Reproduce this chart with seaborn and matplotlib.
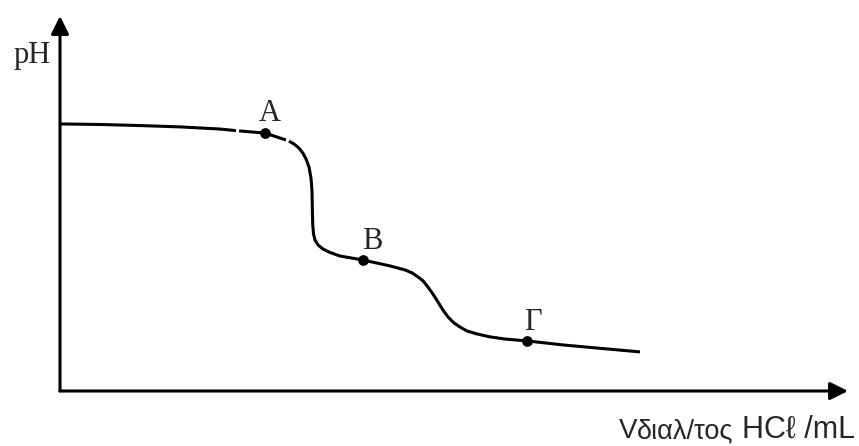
import pandas as pd
import matplotlib
matplotlib.use("Agg")
import matplotlib.pyplot as plt
import seaborn as sns

# titration curve (V in mL, pH), drawn in three pieces
# because the original has two tiny breaks near point A
seg1_v = [0.0, 2.03, 4.06, 6.09, 8.12, 8.93]
seg1_ph = [9.97, 9.95, 9.91, 9.86, 9.78, 9.72]
seg2_v = [9.09, 10.41, 11.47]
seg2_ph = [9.71, 9.63, 9.37]
seg3_v = [11.62, 11.88, 12.13, 12.33, 12.49, 12.64, 12.74, 12.79, 12.81, 12.83,
          12.87, 12.94, 13.10, 13.35, 13.71, 14.21, 15.38, 16.75, 17.51, 17.87,
          18.17, 18.43, 18.68, 18.93, 19.19, 19.44, 19.70, 20.00, 20.30, 20.66,
          21.17, 21.83, 22.59, 23.71, 25.53, 27.77, 29.44]
seg3_ph = [9.33, 9.22, 9.07, 8.88, 8.66, 8.36, 7.95, 7.50, 6.76, 6.20,
           5.86, 5.64, 5.45, 5.30, 5.17, 5.04, 4.89, 4.67, 4.52, 4.41,
           4.26, 4.11, 3.88, 3.62, 3.32, 3.02, 2.76, 2.54, 2.39, 2.24,
           2.13, 2.02, 1.94, 1.87, 1.72, 1.57, 1.46]

point_names = ["A", "Β", "Γ"]
point_v = [10.41, 15.38, 23.71]
point_ph = [9.63, 4.89, 1.87]

sns.set_style("white")
plt.rcParams["font.family"] = ["Liberation Serif", "DejaVu Serif"]

W, H = 859, 446
fig = plt.figure(figsize=(W / 100, H / 100), dpi=100)
ax = fig.add_axes([60 / W, (H - 391) / H, 788 / W, 375 / H])

segs = []
for k, (v, ph) in enumerate([(seg1_v, seg1_ph), (seg2_v, seg2_ph), (seg3_v, seg3_ph)]):
    segs.append(pd.DataFrame({"V": v, "pH": ph, "seg": k}))
curve = pd.concat(segs, ignore_index=True)

sns.lineplot(data=curve, x="V", y="pH", units="seg", estimator=None, sort=False,
             color="black", lw=2.2, ax=ax, legend=False, solid_capstyle="butt",
             solid_joinstyle="round")

pts = pd.DataFrame({"V": point_v, "pH": point_ph, "name": point_names})
sns.scatterplot(data=pts, x="V", y="pH", color="black", s=60, edgecolor="black",
                linewidth=0, ax=ax, zorder=3, legend=False)

offsets = {"A": (3.6, 14.4), "Β": (6.5, 13.0), "Γ": (4.3, 13.0)}
for _, r in pts.iterrows():
    ax.annotate(r["name"], (r["V"], r["pH"]), xytext=offsets[r["name"]],
                textcoords="offset points", ha="center", va="center", fontsize=22)

ax.set_xlim(0, 40)
ax.set_ylim(0, 14)
ax.set_xticks([])
ax.set_yticks([])
ax.set_xlabel("")
ax.set_ylabel("")
for s in ax.spines.values():
    s.set_visible(False)

# axes drawn as arrows
arrow = dict(arrowstyle="-|>", lw=2.2, color="black", mutation_scale=27,
             shrinkA=0, shrinkB=0)
ax.annotate("", xy=(1, 0), xytext=(0, 0), xycoords="axes fraction",
            textcoords="axes fraction", arrowprops=arrow, annotation_clip=False)
ax.annotate("", xy=(0, 1), xytext=(0, 0), xycoords="axes fraction",
            textcoords="axes fraction", arrowprops=arrow, annotation_clip=False)

fig.text(32 / W, 1 - 63 / H, "pH", ha="center", va="baseline", fontsize=22)

sans = ["Liberation Sans", "DejaVu Sans"]
fig.text(619 / W, 1 - 438 / H, "V", ha="left", va="baseline", fontsize=20, family=sans)
fig.text(637 / W, 1 - 438 / H, "διαλ/τος", ha="left", va="baseline", fontsize=19.5, family=sans)
fig.text(855 / W, 1 - 438 / H, "HCℓ /mL", ha="right", va="baseline", fontsize=22, family=sans)

fig.savefig("out.png", dpi=100)
